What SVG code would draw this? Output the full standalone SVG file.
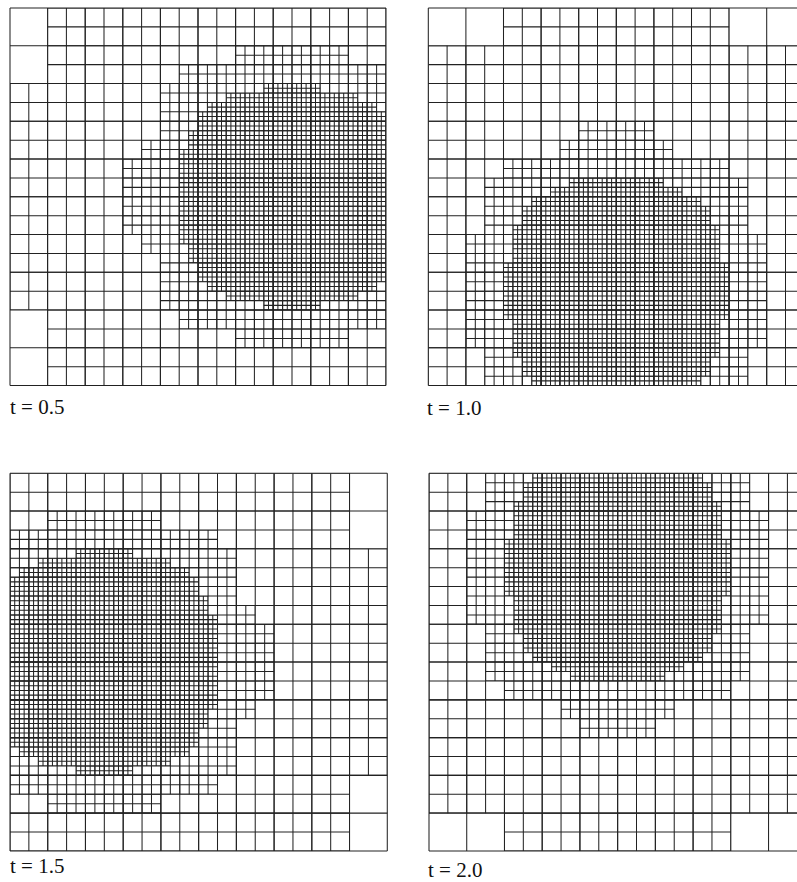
<svg xmlns="http://www.w3.org/2000/svg" width="797" height="882" viewBox="0 0 797 882">
<style>
.g{fill:none;stroke:#222;stroke-width:80}
.l0{stroke-dasharray:0.22 7.78}
.l1{stroke-dasharray:0.22 3.78}
.l2{stroke-dasharray:0.22 1.78}
.l3{stroke-dasharray:0.22 0.78}
text{font-family:"Liberation Serif","Times New Roman",serif;font-size:21px;fill:#111}
</style>
<defs>
<clipPath id="c1"><path d="M8,0H80V80H8V64H0V16H8Z"/></clipPath>
<clipPath id="c2"><path d="M48,8H72V12H80V68H72V72H48V68H36V64H32V52H28V48H24V32H28V28H32V16H36V12H48Z"/></clipPath>
<clipPath id="c3"><path d="M54,16H66V18H74V20H78V22H80V58H78V60H74V62H66V64H54V62H46V60H42V58H40V54H38V50H36V30H38V26H40V22H42V20H46V18H54Z"/></clipPath>
<g id="mesh">
<g class="g l0"><path d="M-0.11,40H80.2"/><path d="M40,-0.11V80.2"/></g>
<g class="g l1" clip-path="url(#c1)"><path d="M-0.11,40H80.2"/><path d="M40,-0.11V80.2"/></g>
<g class="g l2" clip-path="url(#c2)"><path d="M-0.11,40H80.2"/><path d="M40,-0.11V80.2"/></g>
<g class="g l3" clip-path="url(#c3)"><path d="M-0.11,40H80.2"/><path d="M40,-0.11V80.2"/></g>
</g>
</defs>
<g id="panel-1" transform="translate(10,8) scale(4.7,4.72)"><use href="#mesh"/></g>
<g id="panel-2" transform="translate(428.3,8) scale(4.7,4.72) matrix(0,1,1,0,0,0)"><use href="#mesh"/></g>
<g id="panel-3" transform="translate(10,473.3) scale(4.716,4.72) matrix(-1,0,0,1,80,0)"><use href="#mesh"/></g>
<g id="panel-4" transform="translate(429,473.3) scale(4.716,4.72) matrix(0,-1,1,0,0,80)"><use href="#mesh"/></g>
<g id="labels">
<text x="10" y="414">t = 0.5</text>
<text x="427" y="415">t = 1.0</text>
<text x="10" y="873">t = 1.5</text>
<text x="428" y="877">t = 2.0</text>
</g>
</svg>
